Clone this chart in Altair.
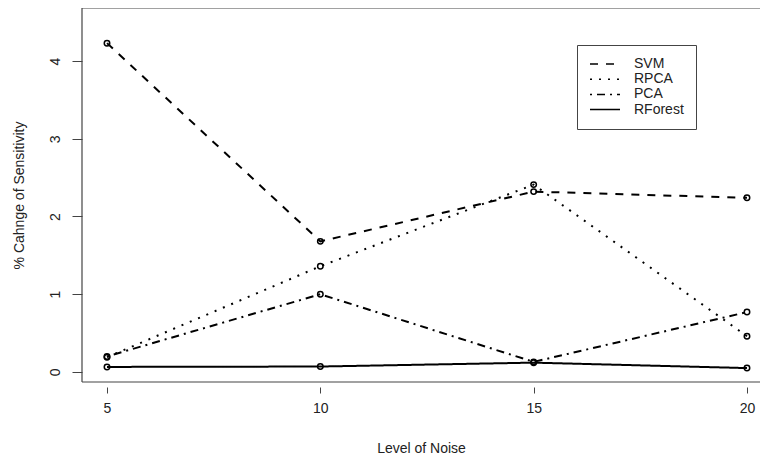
import altair as alt
import pandas as pd

# ---- data ----
noise = [5, 10, 15, 20]
methods = ["SVM", "RPCA", "PCA", "RForest"]
svm = [4.23, 1.68, 2.32, 2.24]
rpca = [0.19, 1.36, 2.41, 0.46]
pca = [0.20, 1.00, 0.13, 0.77]
rforest = [0.065, 0.07, 0.12, 0.05]
y_ticks = [0, 1, 2, 3, 4]
dashes = [[8, 8], [2, 7], [2, 5, 8, 5], [1, 0]]

rows = []
for name, vals in zip(methods, [svm, rpca, pca, rforest]):
    for xv, v in zip(noise, vals):
        rows.append({"noise": xv, "value": v, "method": name})
df = pd.DataFrame(rows)

FONT = "Liberation Sans"
TXT = "#222222"
FRAME = "#444444"
W, H = 678, 374

xs = alt.Scale(domain=[4.414, 20.305], nice=False, zero=False)
ys = alt.Scale(domain=[-0.129, 4.682], nice=False, zero=False)

x_axis = alt.Axis(
    title="Level of Noise", values=noise, format="d", domain=False, grid=False,
    tickSize=6, tickColor=FRAME, tickWidth=1, offset=5,
    labelPadding=8, labelFontSize=14, labelFont=FONT, labelColor=TXT,
    titleFontSize=14, titleFont=FONT, titleColor=TXT, titleFontWeight="normal",
    titlePadding=26,
)
y_axis = alt.Axis(
    title="% Cahnge of Sensitivity", values=y_ticks, format="d", domain=False, grid=False,
    tickSize=10, tickColor=FRAME, tickWidth=1,
    labelAngle=270, labelAlign="center", labelBaseline="bottom",
    labelPadding=10, labelFontSize=14, labelFont=FONT, labelColor=TXT,
    titleFontSize=14, titleFont=FONT, titleColor=TXT, titleFontWeight="normal",
    titlePadding=22,
)

legend = alt.Legend(
    title=None, orient="none", legendX=495, legendY=37,
    symbolType="stroke", symbolSize=900, symbolStrokeWidth=1.5,
    symbolStrokeColor="black", clipHeight=14, rowPadding=1.2,
    labelFontSize=14, labelFont=FONT, labelColor=TXT, labelOffset=13,
    strokeColor=FRAME, padding=12,
)

base = alt.Chart(df)

lines = base.mark_line(color="black", strokeWidth=2).encode(
    x=alt.X("noise:Q", scale=xs, axis=x_axis),
    y=alt.Y("value:Q", scale=ys, axis=y_axis),
    strokeDash=alt.StrokeDash(
        "method:N",
        scale=alt.Scale(domain=methods, range=dashes),
        sort=methods,
        legend=legend,
    ),
)

points = base.mark_point(
    shape="circle", filled=False, size=30, strokeWidth=1.5,
    color="black", opacity=1,
).encode(
    x=alt.X("noise:Q", scale=xs),
    y=alt.Y("value:Q", scale=ys),
    detail="method:N",
)

one = pd.DataFrame({"k": [0]})
frame_top = alt.Chart(one).mark_rule(color=FRAME, strokeWidth=1.2).encode(
    x=alt.value(0), x2=alt.value(W), y=alt.value(0)
)
frame_left = alt.Chart(one).mark_rule(color=FRAME, strokeWidth=1.2).encode(
    x=alt.value(0), y=alt.value(0), y2=alt.value(H)
)
frame_bottom = alt.Chart(one).mark_rule(color=FRAME, strokeWidth=1.2).encode(
    x=alt.value(0), x2=alt.value(W), y=alt.value(H)
)

chart = (
    alt.layer(frame_top, frame_left, frame_bottom, lines, points)
    .properties(
        width=W, height=H,
        autosize=alt.AutoSizeParams(type="none"),
        padding={"left": 74, "top": 0, "right": 0, "bottom": 80},
        background="white",
    )
    .configure_view(stroke="transparent")
)

chart.save("out.html", embed_options={"renderer": "svg", "actions": False})
